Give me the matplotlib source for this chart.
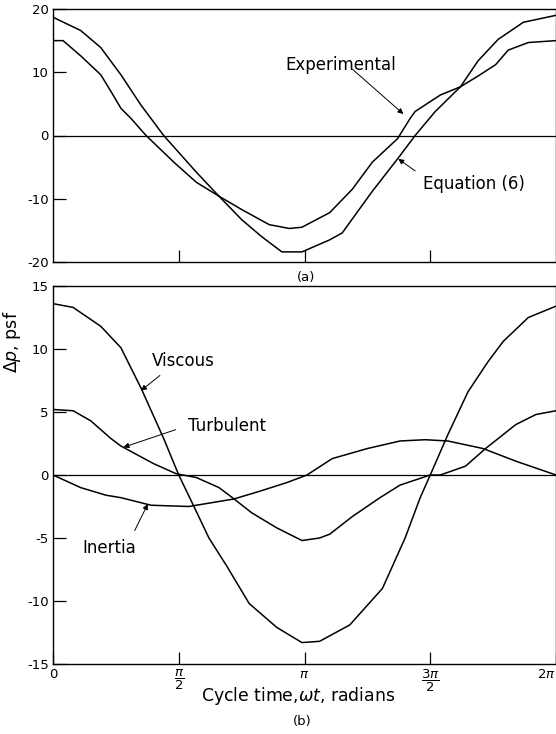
import numpy as np
import matplotlib
matplotlib.use("Agg")
import matplotlib.pyplot as plt

plt.rcParams['font.family'] = ['DejaVu Sans']
plt.rcParams['axes.unicode_minus'] = False
plt.rcParams['mathtext.fontset'] = 'dejavusans'

# (a) experimental vs. equation (6); x in units of pi
exp_x = [0, 0.04, 0.11, 0.19, 0.23, 0.27, 0.31, 0.37, 0.48, 0.57, 0.66, 0.75, 0.86,
         0.94, 0.99, 1.10, 1.19, 1.27, 1.37, 1.42, 1.44, 1.54, 1.62, 1.69, 1.76,
         1.81, 1.89, 2.0]
exp_y = [15.0, 15.0, 12.6, 9.6, 7.0, 4.3, 2.7, 0.0, -4.2, -7.4, -9.6, -11.7, -14.1,
         -14.7, -14.5, -12.2, -8.5, -4.2, -0.5, 2.7, 3.8, 6.4, 7.7, 9.4, 11.2,
         13.5, 14.7, 15.0]

eq_x = [0, 0.11, 0.19, 0.27, 0.35, 0.44, 0.57, 0.66, 0.75, 0.83, 0.91, 0.99, 1.10,
        1.15, 1.27, 1.37, 1.44, 1.52, 1.62, 1.69, 1.77, 1.87, 2.0]
eq_y = [18.7, 16.6, 13.9, 9.6, 4.8, 0.0, -5.8, -9.6, -13.3, -16.0, -18.4, -18.4, -16.5,
        -15.4, -8.8, -3.7, 0.0, 3.8, 7.7, 11.8, 15.2, 17.9, 19.0]

# (b) components
visc_x = [0, 0.08, 0.19, 0.27, 0.35, 0.44, 0.50, 0.57, 0.62, 0.69, 0.78, 0.89, 0.99,
          1.06, 1.18, 1.31, 1.40, 1.46, 1.50, 1.57, 1.65, 1.73, 1.79, 1.89, 2.0]
visc_y = [13.6, 13.3, 11.8, 10.1, 6.9, 2.9, 0.0, -2.9, -5.0, -7.2, -10.2, -12.1, -13.3,
          -13.2, -11.9, -9.0, -5.0, -1.8, 0.0, 3.2, 6.6, 9.0, 10.6, 12.5, 13.4]

turb_x = [0, 0.08, 0.15, 0.23, 0.27, 0.40, 0.49, 0.57, 0.66, 0.72, 0.79, 0.89, 0.99,
          1.06, 1.10, 1.19, 1.30, 1.38, 1.50, 1.54, 1.64, 1.72, 1.84, 1.92, 2.0]
turb_y = [5.2, 5.1, 4.3, 2.9, 2.3, 0.9, 0.1, -0.2, -1.0, -1.9, -3.0, -4.2, -5.2,
          -5.0, -4.7, -3.3, -1.8, -0.8, 0.0, 0.0, 0.7, 2.1, 4.0, 4.8, 5.1]

iner_x = [0, 0.11, 0.21, 0.27, 0.39, 0.54, 0.66, 0.72, 0.82, 0.93, 1.01, 1.11, 1.25,
          1.38, 1.48, 1.57, 1.71, 1.84, 2.0]
iner_y = [0.0, -1.0, -1.6, -1.8, -2.4, -2.5, -2.1, -1.9, -1.3, -0.6, 0.0, 1.3, 2.1,
          2.7, 2.8, 2.7, 2.1, 1.1, 0.0]

xticks = [0, 0.5, 1.0, 1.5, 2.0]
xticklabels = ['0', r'$\dfrac{\pi}{2}$', r'$\pi$', r'$\dfrac{3\pi}{2}$', r'$2\pi$']

fig = plt.figure(figsize=(5.56, 7.34), dpi=100)
ax1 = fig.add_axes([53 / 556, 1 - 262 / 734, 1 - 53 / 556, 253 / 734])
ax2 = fig.add_axes([53 / 556, 1 - 664 / 734, 1 - 53 / 556, 378 / 734])

lw = 1.1
arrow = dict(arrowstyle='-|>', color='k', lw=0.7, mutation_scale=8, shrinkA=0, shrinkB=0)


# Label with a separate pointer arrow (tail, head in data coords, x in pi units)
def label(ax, text, pos, tail, head):
    ax.text(pos[0] * np.pi, pos[1], text, fontsize=12, ha='left', va='center')
    ax.annotate('', xy=(head[0] * np.pi, head[1]), xytext=(tail[0] * np.pi, tail[1]),
                arrowprops=arrow)


ax1.plot(np.array(exp_x) * np.pi, exp_y, color='k', lw=lw)
ax1.plot(np.array(eq_x) * np.pi, eq_y, color='k', lw=lw)
ax1.axhline(0, color='k', lw=0.9)
ax1.set_ylim(-20, 20)
ax1.set_yticks([-20, -10, 0, 10, 20])
ax1.set_xticks([0.5 * np.pi, np.pi, 1.5 * np.pi])
ax1.set_xticklabels([])
label(ax1, 'Experimental', (0.925, 11.2), (1.19, 10.5), (1.393, 3.4))
label(ax1, 'Equation (6)', (1.472, -7.7), (1.44, -5.6), (1.373, -3.7))

ax2.plot(np.array(visc_x) * np.pi, visc_y, color='k', lw=lw)
ax2.plot(np.array(turb_x) * np.pi, turb_y, color='k', lw=lw)
ax2.plot(np.array(iner_x) * np.pi, iner_y, color='k', lw=lw)
ax2.axhline(0, color='k', lw=0.9)
ax2.set_ylim(-15, 15)
ax2.set_yticks([-15, -10, -5, 0, 5, 10, 15])
ax2.set_xticks(np.array(xticks) * np.pi)
ax2.set_xticklabels(xticklabels)
ax2.get_xticklabels()[-1].set_horizontalalignment('right')
label(ax2, 'Viscous', (0.393, 9.05), (0.425, 7.9), (0.35, 6.7))
label(ax2, 'Turbulent', (0.536, 3.9), (0.488, 3.6), (0.28, 2.2))
label(ax2, 'Inertia', (0.115, -5.8), (0.325, -4.4), (0.377, -2.3))

for ax in (ax1, ax2):
    ax.set_xlim(0, 2 * np.pi)
    ax.tick_params(direction='in', length=9, width=0.9, labelsize=9.5, pad=3)
    for s in ax.spines.values():
        s.set_linewidth(1.0)

fig.text(306 / 556, 1 - 277 / 734, '(a)', ha='center', va='center', fontsize=9.5)
fig.text(298 / 556, 1 - 696 / 734, r'Cycle time,$\omega t$, radians', ha='center',
         va='center', fontsize=12.4)
fig.text(302 / 556, 1 - 722 / 734, '(b)', ha='center', va='center', fontsize=9.5)
fig.text(12 / 556, 1 - 342 / 734, r'$\Delta p$, psf', rotation=90, ha='center',
         va='center', fontsize=12.5)

fig.savefig('out.png', dpi=100)
